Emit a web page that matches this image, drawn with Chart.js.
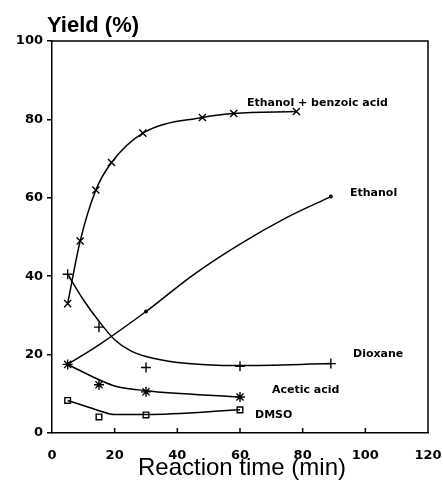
<!DOCTYPE html>
<html>
<head>
<meta charset="utf-8">
<script src="https://cdn.jsdelivr.net/npm/chart.js@4/dist/chart.umd.min.js"></script>
<style>
  html, body { margin: 0; padding: 0; background: #fff; }
  #wrap { width: 443px; height: 480px; }
</style>
</head>
<body>
<div id="wrap"><canvas id="yieldChart"></canvas></div>
<script>
// Yield vs reaction time
const xTicks = [0, 20, 40, 60, 80, 100, 120];
const yTicks = [0, 20, 40, 60, 80, 100];

// Ethanol + benzoic acid (x markers)
const benzoicTime = [5, 9, 14, 19, 29, 48, 58, 78];
const benzoicYield = [33, 49, 62, 69, 76.5, 80.5, 81.5, 82];

// Ethanol (small dots) and the drawn curve
const ethanolTime = [5, 30, 89];
const ethanolYield = [17.5, 31, 60.3];
const ethanolCurveTime = [5, 15, 30, 45, 60, 75, 89];
const ethanolCurveYield = [17.5, 22.5, 31, 40.3, 48.2, 55, 60.3];

// Dioxane (+ markers) and the drawn curve through them
const dioxaneTime = [5, 15, 30, 60, 89];
const dioxaneYield = [40.5, 27, 16.7, 17, 17.7];
const dioxaneCurveTime = [5, 10, 15, 20, 25, 30, 40, 60, 89];
const dioxaneCurveYield = [40.5, 34, 28.5, 23.8, 21, 19.5, 18, 17.2, 17.7];

// Acetic acid (* markers) and curve
const aceticTime = [5, 15, 30, 60];
const aceticYield = [17.5, 12.3, 10.5, 9.2];
const aceticCurveTime = [5, 10, 15, 20, 30, 60];
const aceticCurveYield = [17.5, 15.5, 13.6, 12, 10.8, 9.2];

// DMSO (open squares) and curve
const dmsoTime = [5, 15, 30, 60];
const dmsoYield = [8.3, 4.1, 4.6, 5.9];
const dmsoCurveTime = [5, 10, 15, 20, 30, 60];
const dmsoCurveYield = [8.3, 7, 5.7, 4.7, 4.7, 5.9];

const seriesLabels = ['Ethanol + benzoic acid', 'Ethanol', 'Dioxane', 'Acetic acid', 'DMSO'];

function pts(xs, ys) {
    return xs.map((x, i) => ({ x: x, y: ys[i] }));
}

function markers(label, xs, ys, style, r) {
    return {
        label: label,
        data: pts(xs, ys),
        showLine: false,
        pointStyle: style,
        pointRadius: r,
        borderColor: '#000',
        backgroundColor: 'rgba(0,0,0,0)',
        pointBorderWidth: 1.4
    };
}

function curve(label, xs, ys, tension) {
    return {
        label: label,
        data: pts(xs, ys),
        showLine: true,
        pointRadius: 0,
        borderColor: '#000',
        borderWidth: 1.5,
        tension: tension,
        cubicInterpolationMode: 'monotone'
    };
}

// annotation text, placement in pixels
const textPlugin = {
    id: 'figText',
    afterDraw(chart) {
        const ctx = chart.ctx;
        const a = chart.chartArea;
        const xs = chart.scales.x;
        ctx.save();
        ctx.strokeStyle = '#000';
        ctx.lineWidth = 1.5;
        // top and right frame
        ctx.beginPath();
        ctx.moveTo(a.left, a.top);
        ctx.lineTo(a.right, a.top);
        ctx.lineTo(a.right, a.bottom);
        ctx.stroke();
        // inward x ticks
        xTicks.forEach(v => {
            if (v === 0 || v === 120) return;
            const px = xs.getPixelForValue(v);
            ctx.beginPath();
            ctx.moveTo(px, a.bottom);
            ctx.lineTo(px, a.bottom - 5);
            ctx.stroke();
        });
        ctx.fillStyle = '#000';
        ctx.textBaseline = 'middle';
        ctx.textAlign = 'left';
        ctx.font = 'bold 11px "DejaVu Sans"';
        const place = [[247, 103], [350, 193], [353, 354], [272, 390], [255, 415]];
        seriesLabels.forEach((t, i) => ctx.fillText(t, place[i][0], place[i][1]));
        ctx.font = 'bold 22px "Liberation Sans"';
        ctx.textBaseline = 'alphabetic';
        ctx.fillText('Yield (%)', 47, 32);
        ctx.font = '24px "Liberation Sans"';
        ctx.textAlign = 'center';
        ctx.fillText('Reaction time (min)', 242, 475);
        ctx.restore();
    }
};

const chart = new Chart(document.getElementById('yieldChart'), {
    type: 'scatter',
    data: {
        datasets: [
            curve('benzoic line', benzoicTime, benzoicYield, 0.4),
            markers(seriesLabels[0], benzoicTime, benzoicYield, 'crossRot', 5),
            curve('ethanol line', ethanolCurveTime, ethanolCurveYield, 0.4),
            markers(seriesLabels[1], ethanolTime, ethanolYield, 'circle', 1.3),
            curve('dioxane line', dioxaneCurveTime, dioxaneCurveYield, 0.4),
            markers(seriesLabels[2], dioxaneTime, dioxaneYield, 'cross', 5),
            curve('acetic line', aceticCurveTime, aceticCurveYield, 0.4),
            markers(seriesLabels[3], aceticTime, aceticYield, 'star', 5),
            curve('dmso line', dmsoCurveTime, dmsoCurveYield, 0),
            markers(seriesLabels[4], dmsoTime, dmsoYield, 'rect', 4)
        ]
    },
    options: {
        responsive: true,
        maintainAspectRatio: false,
        animation: false,
        layout: { padding: { left: 0, top: 41, right: 15, bottom: 0 } },
        plugins: { legend: { display: false }, tooltip: { enabled: false } },
        scales: {
            x: {
                type: 'linear',
                min: 0,
                max: 120,
                afterFit(s) { s.height = 47; s.paddingLeft = 0; s.paddingRight = 0; },
                afterBuildTicks(s) { s.ticks = xTicks.map(v => ({ value: v })); },
                grid: { display: false },
                border: { color: '#000', width: 1.5 },
                ticks: { color: '#000', padding: 7, maxRotation: 0, font: { family: 'DejaVu Sans', weight: 'bold', size: 13 } }
            },
            y: {
                type: 'linear',
                min: 0,
                max: 100,
                afterFit(s) { s.width = 52; s.paddingTop = 0; s.paddingBottom = 0; },
                afterBuildTicks(s) { s.ticks = yTicks.map(v => ({ value: v })); },
                grid: { drawOnChartArea: false, drawTicks: true, tickLength: 5, color: '#000', lineWidth: 1.5 },
                border: { color: '#000', width: 1.5 },
                ticks: { color: '#000', padding: 4, font: { family: 'DejaVu Sans', weight: 'bold', size: 13 } }
            }
        }
    },
    plugins: [textPlugin]
});
</script>
</body>
</html>
